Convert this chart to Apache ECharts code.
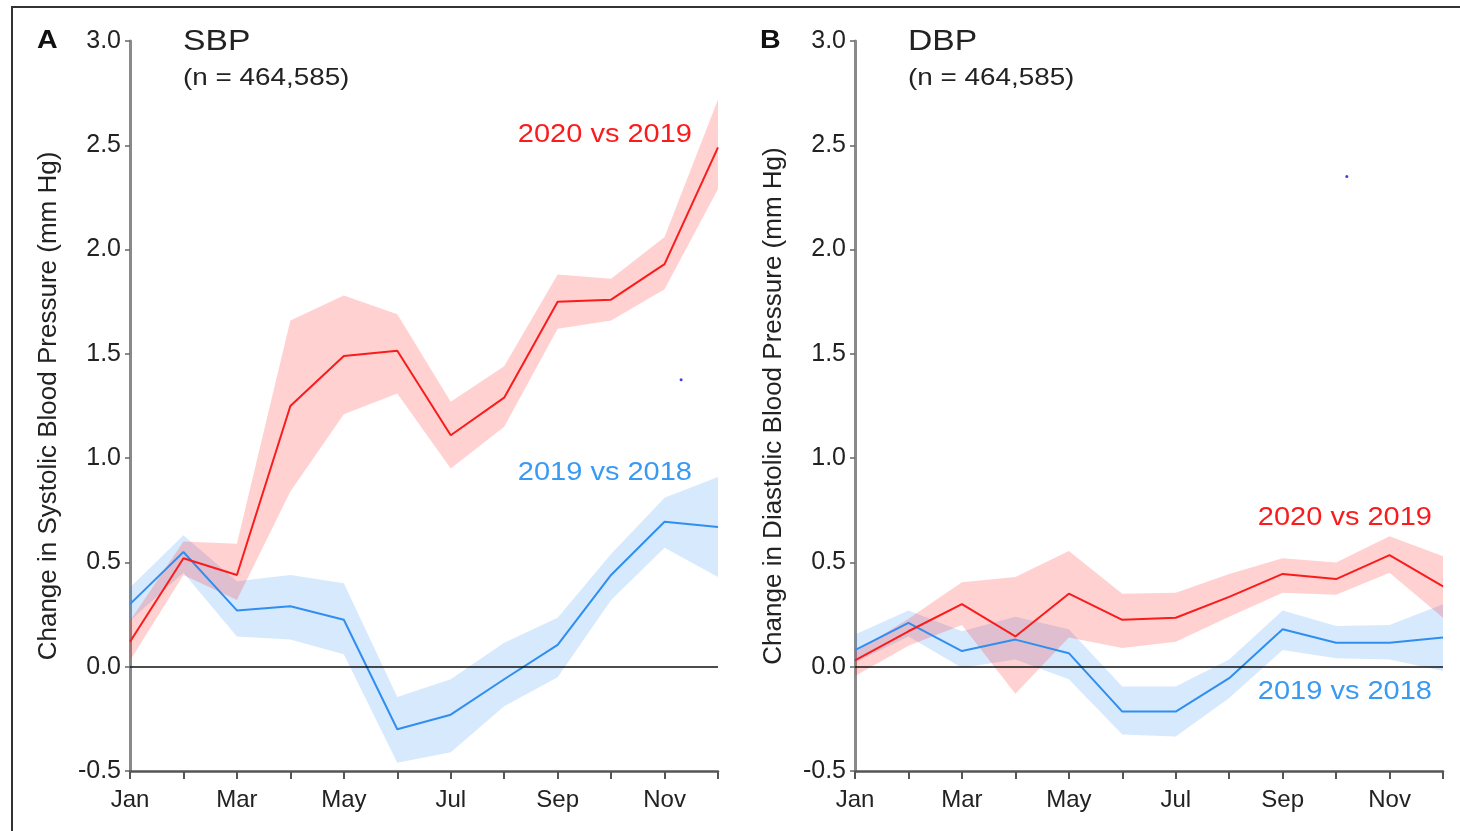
<!DOCTYPE html>
<html><head><meta charset="utf-8">
<script src="https://cdn.jsdelivr.net/npm/echarts@6/dist/echarts.min.js"></script>
<style>html,body{margin:0;padding:0;background:#fff}#c{width:1460px;height:831px}</style>
</head><body><div id="c"></div>
<script>
const months = ['Jan','Feb','Mar','Apr','May','Jun','Jul','Aug','Sep','Oct','Nov','Dec'];
const yTicks = [-0.5, 0, 0.5, 1.0, 1.5, 2.0, 2.5, 3.0];

// Panel A: SBP
const sbp2020 = [0.12, 0.52, 0.44, 1.25, 1.49, 1.515, 1.11, 1.29, 1.75, 1.76, 1.93, 2.49];
const sbp2020Up = [0.22, 0.60, 0.59, 1.66, 1.78, 1.69, 1.27, 1.44, 1.88, 1.86, 2.06, 2.72];
const sbp2020Lo = [0.03, 0.44, 0.32, 0.84, 1.21, 1.31, 0.95, 1.15, 1.62, 1.66, 1.81, 2.29];
const sbp2019 = [0.30, 0.55, 0.27, 0.29, 0.225, -0.30, -0.23, -0.06, 0.105, 0.44, 0.695, 0.67];
const sbp2019Up = [0.38, 0.63, 0.41, 0.44, 0.40, -0.145, -0.06, 0.115, 0.235, 0.54, 0.81, 0.91];
const sbp2019Lo = [0.22, 0.45, 0.145, 0.13, 0.06, -0.46, -0.41, -0.19, -0.05, 0.32, 0.57, 0.43];

// Panel B: DBP
const dbp2020 = [0.03, 0.17, 0.30, 0.145, 0.35, 0.225, 0.235, 0.335, 0.445, 0.42, 0.535, 0.385];
const dbp2020Up = [0.07, 0.23, 0.405, 0.43, 0.555, 0.35, 0.355, 0.445, 0.52, 0.50, 0.625, 0.53];
const dbp2020Lo = [-0.045, 0.10, 0.20, -0.13, 0.14, 0.09, 0.12, 0.24, 0.355, 0.345, 0.45, 0.235];
const dbp2019 = [0.08, 0.21, 0.075, 0.13, 0.065, -0.215, -0.215, -0.055, 0.18, 0.115, 0.115, 0.14];
const dbp2019Up = [0.155, 0.27, 0.17, 0.24, 0.18, -0.095, -0.095, 0.035, 0.27, 0.195, 0.20, 0.30];
const dbp2019Lo = [0.02, 0.145, -0.005, 0.035, -0.06, -0.325, -0.335, -0.15, 0.08, 0.04, 0.035, -0.02];

// stray marks in the figure
const strayA = [[10.31, 1.376]];
const strayB = [[9.2, 2.35]];

const FONT = 'Liberation Sans, Arial, sans-serif';
const RED = '#fa1c1c', RED_BAND = 'rgba(255,40,40,0.21)';
const BLUE = '#2f8ef0', BLUE_BAND = 'rgba(40,140,245,0.19)';
const LABEL_BLUE = '#3a9af2';

const pts = arr => arr.map((v, i) => [i, v]);

function xAxis(gi) {
  return {
    type: 'value', gridIndex: gi, min: 0, max: 11, interval: 1,
    axisLine: { show: true, onZero: false, lineStyle: { color: '#555', width: 2.5 } },
    axisTick: { show: true, length: 8, lineStyle: { color: '#555', width: 2 } },
    axisLabel: { color: '#222', fontSize: 24, fontFamily: FONT, margin: 17,
      formatter: v => (v % 2 === 0 ? months[v] : '') },
    splitLine: { show: false }
  };
}
function yAxis(gi, name) {
  return {
    type: 'value', gridIndex: gi, min: -0.5, max: 3.0, interval: 0.5,
    name: name, nameLocation: 'middle', nameGap: 68, nameRotate: 90,
    nameTextStyle: { color: '#222', fontSize: 26, fontFamily: FONT },
    axisLine: { show: true, lineStyle: { color: '#8a8a8a', width: 3 } },
    axisTick: { show: true, length: 5, lineStyle: { color: '#666', width: 1.5 } },
    axisLabel: { color: '#222', fontSize: 25, fontFamily: FONT, margin: 9,
      formatter: v => v.toFixed(1) },
    splitLine: { show: false }
  };
}
function band(gi, up, lo, color) {
  return {
    type: 'custom', xAxisIndex: gi, yAxisIndex: gi, silent: true, z: 1,
    data: up.map((v, i) => [i, v, lo[i]]),
    encode: { x: 0, y: [1, 2] },
    renderItem: (params, api) => {
      if (params.dataIndex !== 0) return null;
      const top = up.map((v, i) => api.coord([i, v]));
      const bot = lo.map((v, i) => api.coord([i, v])).reverse();
      return { type: 'polygon', shape: { points: top.concat(bot) }, style: { fill: color } };
    }
  };
}
function line(gi, vals, color, extra) {
  return Object.assign({ type: 'line', xAxisIndex: gi, yAxisIndex: gi, data: pts(vals),
    symbol: 'none', lineStyle: { color: color, width: 2 }, z: 3 }, extra || {});
}
const zero = { silent: true, symbol: 'none', label: { show: false },
  lineStyle: { color: '#111', width: 1.5, type: 'solid' }, data: [{ yAxis: 0 }] };

const series = [
  band(0, sbp2019Up, sbp2019Lo, BLUE_BAND),
  band(0, sbp2020Up, sbp2020Lo, RED_BAND),
  line(0, sbp2019, BLUE, { markLine: zero }),
  line(0, sbp2020, RED),
  { type: 'scatter', xAxisIndex: 0, yAxisIndex: 0, data: strayA, symbolSize: 3, itemStyle: { color: '#1010e0' } },
  band(1, dbp2019Up, dbp2019Lo, BLUE_BAND),
  band(1, dbp2020Up, dbp2020Lo, RED_BAND),
  line(1, dbp2019, BLUE, { markLine: zero }),
  line(1, dbp2020, RED),
  { type: 'scatter', xAxisIndex: 1, yAxisIndex: 1, data: strayB, symbolSize: 3, itemStyle: { color: '#1010e0' } }
];

function t(x, y, s, size, color, align, bold, sx) {
  return { type: 'text', x: x, y: y, scaleX: sx || 1.16, z: 10, silent: true,
    style: { text: s, font: (bold ? 'bold ' : '') + size + 'px ' + FONT, fill: color,
      textAlign: align || 'left', textVerticalAlign: 'top' } };
}

const chart = echarts.init(document.getElementById('c'), null, { renderer: 'canvas' });
chart.setOption({
  animation: false,
  backgroundColor: '#fff',
  grid: [
    { left: 130, top: 41, width: 588, height: 730 },
    { left: 855, top: 41, width: 588, height: 730 }
  ],
  xAxis: [xAxis(0), xAxis(1)],
  yAxis: [yAxis(0, 'Change in Systolic Blood Pressure (mm Hg)'), yAxis(1, 'Change in Diastolic Blood Pressure (mm Hg)')],
  series: series,
  graphic: [
    { type: 'rect', shape: { x: 12, y: 7, width: 1460, height: 840 }, style: { fill: 'none', stroke: '#333', lineWidth: 2 }, z: 0, silent: true },
    t(37, 28, 'A', 26, '#111', 'left', true, 1.1),
    t(760, 28, 'B', 26, '#111', 'left', true, 1.1),
    t(183, 27, 'SBP', 29, '#222'),
    t(183, 66, '(n = 464,585)', 24, '#222'),
    t(908, 27, 'DBP', 29, '#222'),
    t(908, 66, '(n = 464,585)', 24, '#222'),
    t(692, 123, '2020 vs 2019', 25, RED, 'right'),
    t(692, 461, '2019 vs 2018', 25, LABEL_BLUE, 'right'),
    t(1432, 506, '2020 vs 2019', 25, RED, 'right'),
    t(1432, 680, '2019 vs 2018', 25, LABEL_BLUE, 'right')
  ]
});
</script>
</body></html>
